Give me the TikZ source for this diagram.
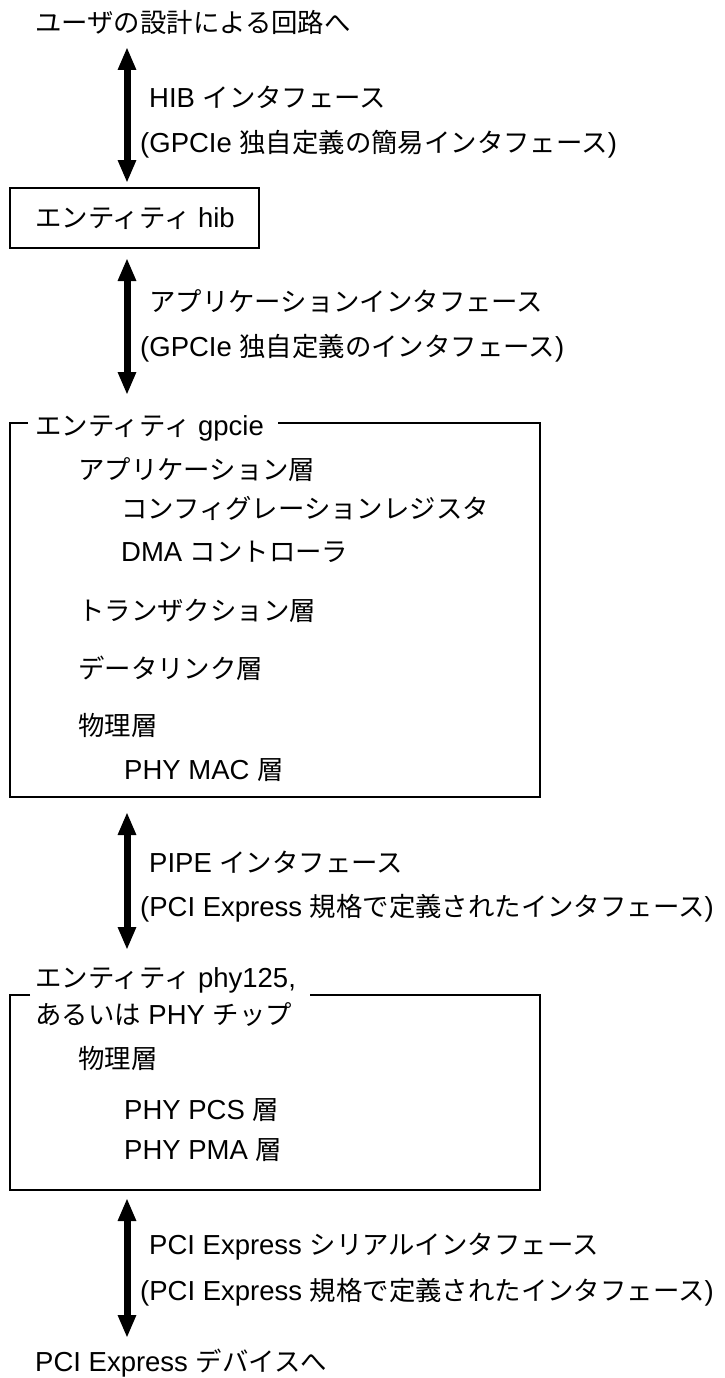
\documentclass[tikz,border=0pt]{standalone}
\usepackage{fontspec}
\setmainfont{Liberation Sans}
\newfontfamily\jp[Scale=0.96]{Noto Sans CJK JP}
\newcommand{\J}[1]{{\jp #1}}
\usetikzlibrary{arrows.meta}
\begin{document}
\begin{tikzpicture}[x=1pt,y=-1pt,
  every node/.style={inner sep=0pt, anchor=west, font=\fontsize{27.5pt}{32pt}\selectfont},
  boxline/.style={line width=1.8pt},
  bigarrow/.style={line width=7pt,
    {Triangle[width=17pt,length=23pt]}-{Triangle[width=17pt,length=23pt]}}]
\useasboundingbox (0,0) rectangle (725,1378);
% top
\node (top) at (35,22) {\J{ユーザの設計による回路へ}};
\coordinate (a1s) at (127,47);
\coordinate (a1e) at (127,183);
\draw[bigarrow] (a1s) -- (a1e);
\node (l1a) at (149,97) {HIB \J{インタフェース}};
\node (l1b) at (140,144) {(GPCIe \J{独自定義の簡易インタフェース})};
% hib box
\draw[boxline] (10,188) rectangle (259,248);
\node (hib) at (35,219) {\J{エンティティ} hib};
% arrow 2
\coordinate (a2s) at (127,258);
\coordinate (a2e) at (127,395);
\draw[bigarrow] (a2s) -- (a2e);
\node (l2a) at (149,301) {\J{アプリケーションインタフェース}};
\node (l2b) at (140,348) {(GPCIe \J{独自定義のインタフェース})};
% gpcie box
\draw[boxline] (28,423) -- (10,423) -- (10,797) -- (540,797) -- (540,423) -- (278,423);
\node (gp) at (35,428) {\J{エンティティ} gpcie};
\node (g1) at (78,470) {\J{アプリケーション層}};
\node (g2) at (121,508) {\J{コンフィグレーションレジスタ}};
\node (g3) at (121,552) {DMA \J{コントローラ}};
\node (g4) at (78,611) {\J{トランザクション層}};
\node (g5) at (78,668) {\J{データリンク層}};
\node (g6) at (78,725) {\J{物理層}};
\node (g7) at (124,770) {PHY MAC \J{層}};
% arrow 3
\coordinate (a3s) at (127,812);
\coordinate (a3e) at (127,950);
\draw[bigarrow] (a3s) -- (a3e);
\node (l3a) at (149,862) {PIPE \J{インタフェース}};
\node (l3b) at (140,908) {(PCI Express \J{規格で定義されたインタフェース})};
% phy box
\draw[boxline] (30,995) -- (10,995) -- (10,1190) -- (540,1190) -- (540,995) -- (310,995);
\node (ph1) at (35,980) {\J{エンティティ} phy125,};
\node (ph2) at (35,1015) {\J{あるいは} PHY \J{チップ}};
\node (p1) at (78,1058) {\J{物理層}};
\node (p2) at (124,1110) {PHY PCS \J{層}};
\node (p3) at (124,1150) {PHY PMA \J{層}};
% arrow 4
\coordinate (a4s) at (127,1198);
\coordinate (a4e) at (127,1338);
\draw[bigarrow] (a4s) -- (a4e);
\node (l4a) at (149,1247) {PCI Express \J{シリアルインタフェース}};
\node (l4b) at (140,1292) {(PCI Express \J{規格で定義されたインタフェース})};
\node (bot) at (35,1363) {PCI Express \J{デバイスへ}};
\end{tikzpicture}
\end{document}
